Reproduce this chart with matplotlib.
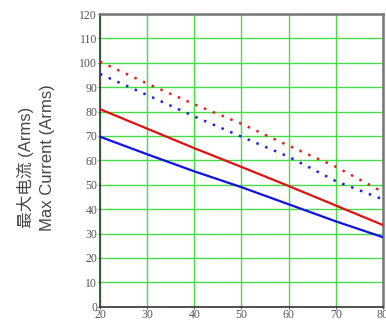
import matplotlib
matplotlib.use('Agg')
import matplotlib.pyplot as plt

# speed points and current values
speed = [20, 30, 40, 50, 60, 70, 80]
red_solid = [81, 73, 65, 57.3, 49.5, 41.5, 33.5]
blue_solid = [69.7, 62.5, 55.5, 49, 42, 35, 28.5]
red_dotted = [100.5, 91.5, 83, 75, 66, 57.4, 47]
blue_dotted = [95.4, 86.8, 78, 69.7, 61.5, 51.5, 44]

xticks = [20, 30, 40, 50, 60, 70, 80]
yticks = list(range(0, 121, 10))

fig = plt.figure(figsize=(3.86, 3.22), dpi=100)
ax = fig.add_axes([0.259, 0.0475, 0.733, 0.909])

grid_c = '#44dd44'
for x in xticks:
    ax.axvline(x, color=grid_c, lw=1.0, zorder=1)
for y in yticks:
    ax.axhline(y, color=grid_c, lw=1.0, zorder=1)

ax.plot(speed, red_dotted, color='#e02020', lw=1.8, ls=(0, (1, 2.8)), zorder=3)
ax.plot(speed, blue_dotted, color='#2020e0', lw=1.8, ls=(0, (1, 2.8)), zorder=3)
ax.plot(speed, red_solid, color='#e01010', lw=1.6, zorder=4)
ax.plot(speed, blue_solid, color='#1010e0', lw=1.6, zorder=4)

ax.set_xlim(20, 80)
ax.set_ylim(0, 120)
ax.set_xticks(xticks)
ax.set_yticks(yticks)
ax.tick_params(length=1.5, width=0.8, pad=0.5, labelsize=8.5, colors='#555555')
for lab in ax.get_xticklabels() + ax.get_yticklabels():
    lab.set_family('Liberation Serif')

for side in ['top', 'right']:
    ax.spines[side].set_color('#777777')
    ax.spines[side].set_linewidth(1.8)
for side in ['left', 'bottom']:
    ax.spines[side].set_color('#333333')
    ax.spines[side].set_linewidth(1.2)

fam = ['Liberation Sans', 'Noto Sans CJK SC']
fig.text(25 / 386, 1 - 167 / 322, '最大电流 (Arms)', rotation=90, ha='center', va='center',
         fontsize=12, color='#444444', family=fam)
fig.text(48 / 386, 1 - 158 / 322, 'Max Current (Arms)', rotation=90, ha='center', va='center',
         fontsize=12, color='#444444', family=fam)

fig.savefig('out.png', dpi=100)
